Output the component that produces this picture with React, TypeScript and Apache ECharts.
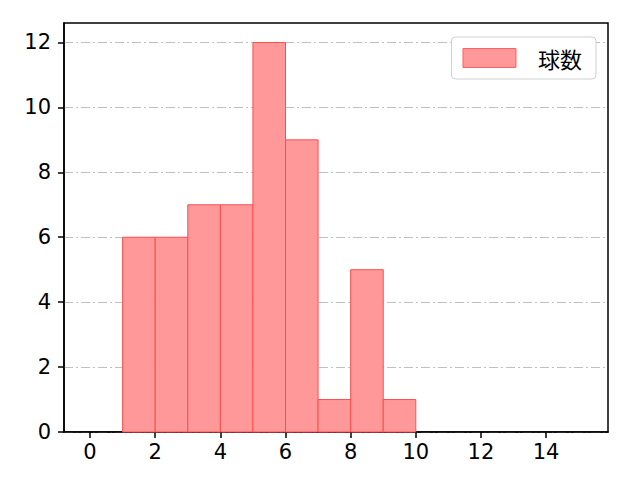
import React, { useEffect, useRef } from "react";
import * as echarts from "echarts";

// 球数のヒストグラム
const binStart = [1, 2, 3, 4, 5, 6, 7, 8, 9];
const binEnd = [2, 3, 4, 5, 6, 7, 8, 9, 10];
const counts = [6, 6, 7, 7, 12, 9, 1, 5, 1];
const xTicks = [0, 2, 4, 6, 8, 10, 12, 14];
const yTicks = [0, 2, 4, 6, 8, 10, 12];

const font = "Noto Sans CJK JP";
const numFont = "DejaVu Sans";

const App: React.FC = () => {
  const chartRef = useRef<HTMLDivElement | null>(null);

  useEffect(() => {
    if (!chartRef.current) return;
    const chart = echarts.init(chartRef.current, null, { renderer: "svg" });

    const data = binStart.map((s, i) => [s, binEnd[i], counts[i]]);
    const axisLine = { show: true, onZero: false, lineStyle: { color: "#000", width: 1.5 } };

    chart.setOption({
      animation: false,
      grid: {
        left: 64,
        right: 32,
        top: 23,
        bottom: 48,
        show: true,
        borderColor: "#000",
        borderWidth: 1.5,
      },
      legend: {
        right: 44,
        top: 37,
        orient: "vertical",
        icon: "rect",
        itemWidth: 53,
        itemHeight: 19,
        padding: [10, 14, 10, 11],
        borderColor: "#d0d0d0",
        borderWidth: 1,
        borderRadius: 4,
        backgroundColor: "#fff",
        textStyle: {
          fontFamily: font,
          fontSize: 22,
          color: "#000",
          padding: [0, 0, 0, 17],
        },
        data: [{ name: "球数", itemStyle: { color: "#ff9999", borderColor: "#ff6060", borderWidth: 1 } }],
      },
      xAxis: {
        type: "value",
        min: -0.8,
        max: 15.9,
        axisLine,
        splitLine: { show: false },
        axisTick: {
          show: true,
          customValues: xTicks,
          length: 6,
          lineStyle: { color: "#000", width: 1.5 },
        },
        axisLabel: {
          customValues: xTicks,
          fontFamily: numFont,
          fontSize: 21,
          color: "#000",
          margin: 9,
        },
      },
      yAxis: {
        type: "value",
        min: 0,
        max: 12.6,
        axisLine,
        axisTick: {
          show: true,
          customValues: yTicks,
          length: 6,
          lineStyle: { color: "#000", width: 1.5 },
        },
        axisLabel: {
          customValues: yTicks,
          fontFamily: numFont,
          fontSize: 21,
          color: "#000",
          margin: 13,
        },
        splitLine: {
          show: true,
          lineStyle: { color: "#b0b0b0", width: 0.8, type: [9, 3, 2, 3] },
        },
      },
      series: [
        {
          name: "球数",
          type: "custom",
          data,
          encode: { x: [0, 1], y: 2 },
          renderItem: (params: any, api: any) => {
            const p0 = api.coord([api.value(0), 0]);
            const p1 = api.coord([api.value(1), api.value(2)]);
            return {
              type: "rect",
              shape: { x: p0[0], y: p1[1], width: p1[0] - p0[0], height: p0[1] - p1[1] },
              style: { fill: "#ff9999", stroke: "#ff4d4d", lineWidth: 1 },
            };
          },
        },
      ],
    });

    return () => {
      chart.dispose();
    };
  }, []);

  return (
    <div
      ref={chartRef}
      style={{ position: "absolute", left: 0, top: 0, width: "640px", height: "480px" }}
    />
  );
};

export default App;
